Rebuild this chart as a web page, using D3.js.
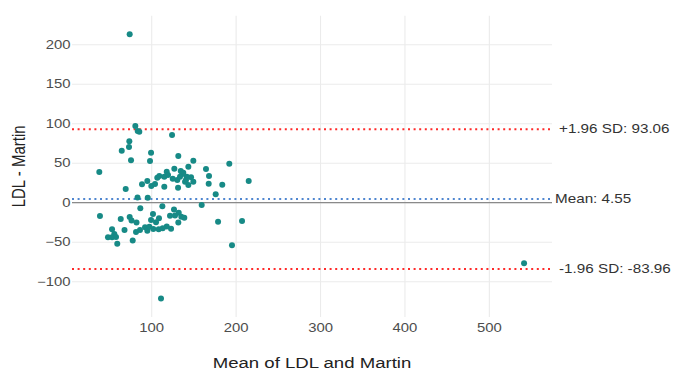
<!DOCTYPE html>
<html>
<head>
<meta charset="utf-8">
<script src="https://cdn.jsdelivr.net/npm/d3@7/dist/d3.min.js"></script>
<style>
  html, body { margin: 0; padding: 0; background: #fff; }
  svg { display: block; }
  text { font-family: "Liberation Sans", Arial, Helvetica, sans-serif; }
</style>
</head>
<body>
<svg id="chart" width="673" height="371"></svg>
<script>
// ---- data ----
const meanVals = [73.9,80.6,83.4,85.3,124.1,73.5,73.1,64.5,75.5,99.2,98.0,131.5,149.3,191.9,37.9,
  126.8,134.4,137.4,117.8,109.0,106.6,143.4,164.3,167.9,146.6,141.5,140.6,130.3,124.9,214.9,
  94.8,99.5,88.5,69.2,114.9,131.2,143.4,139.5,149.3,167.5,183.6,175.8,83.2,95.3,136.3,114.9,
  103.9,119.3,159.2,112.6,86.5,38.7,63.3,73.9,76.1,82.0,86.1,81.4,77.5,67.8,53.0,55.7,48.2,
  53.0,57.7,59.2,101.5,108.6,99.2,92.1,94.8,101.9,108.3,117.8,122.9,121.7,126.4,132.0,135.1,
  131.5,127.6,178.6,207.0,195.1,111.0,138.6,105.1,97.2,113.0,541.1,133.5];
const diffVals = [213.2,97.1,90.8,89.9,85.7,77.7,70.5,65.8,53.7,63.3,52.8,59.1,53.2,49.4,38.9,
  43.0,40.1,38.0,39.2,33.8,31.6,45.6,42.7,33.8,32.2,32.9,28.7,28.7,30.4,27.5,
  27.5,21.1,23.3,17.3,20.3,19.0,22.4,26.6,26.6,24.1,22.8,10.6,6.6,6.3,36.3,32.9,
  23.7,35.1,-2.9,-4.6,-7.1,-16.8,-20.6,-18.1,-22.5,-25.1,-34.6,-37.1,-47.8,-34.6,-33.7,-39.6,-43.8,
  -43.8,-43.4,-51.9,-14.3,-19.7,-21.9,-31.1,-35.4,-33.3,-33.7,-30.1,-32.9,-16.5,-8.6,-12.7,-17.7,
  -25.1,-16.2,-24.1,-23.2,-53.9,-121.3,-19.0,-24.8,-30.4,-32.4,-76.7,32.9];
const xTicks = [100, 200, 300, 400, 500];
const yTicks = [-100, -50, 0, 50, 100, 150, 200];
const meanDiff = 4.55;
const upperLoA = 93.06;
const lowerLoA = -83.96;
const refLines = [
  { value: upperLoA, label: "+1.96 SD: 93.06", kind: "loa" },
  { value: meanDiff, label: "Mean: 4.55", kind: "mean" },
  { value: lowerLoA, label: "-1.96 SD: -83.96", kind: "loa" }
];
const xTitle = "Mean of LDL and Martin";
const yTitle = "LDL - Martin";

// ---- layout ----
const panel = { left: 72, right: 552, top: 15.7, bottom: 317 };
const SX = 1.24; // horizontal stretch of the reference image text

const svg = d3.select("#chart");
const x = d3.scaleLinear().domain([5.57, 574.2]).range([panel.left, panel.right]);
const y = d3.scaleLinear().domain([-144.7, 236.7]).range([panel.bottom, panel.top]);

// gridlines
const grid = svg.append("g");
grid.selectAll("line.gx").data(xTicks).enter().append("line")
  .attr("x1", d => x(d)).attr("x2", d => x(d))
  .attr("y1", panel.top).attr("y2", panel.bottom)
  .attr("stroke", "#ebebeb").attr("stroke-width", 1.1);
grid.selectAll("line.gy").data(yTicks).enter().append("line")
  .attr("y1", d => y(d)).attr("y2", d => y(d))
  .attr("x1", panel.left).attr("x2", panel.right)
  .attr("stroke", "#ebebeb").attr("stroke-width", 1.1);

// zero line
svg.append("line")
  .attr("x1", panel.left).attr("x2", panel.right)
  .attr("y1", y(0)).attr("y2", y(0))
  .attr("stroke", "#8a8a8a").attr("stroke-width", 1.2);

// reference lines
svg.selectAll("line.ref").data(refLines).enter().append("line")
  .attr("x1", panel.left).attr("x2", panel.right)
  .attr("y1", d => y(d.value)).attr("y2", d => y(d.value))
  .attr("stroke", d => d.kind === "mean" ? "#4f86d0" : "#ff2a2a")
  .attr("stroke-width", 2)
  .attr("stroke-dasharray", "2,3.6");

// points
const pts = meanVals.map((m, i) => ({ m, d: diffVals[i] }));
svg.selectAll("circle").data(pts).enter().append("circle")
  .attr("cx", d => x(d.m)).attr("cy", d => y(d.d))
  .attr("r", 3).attr("fill", "#178a86");

// helper for stretched text
function stext(g, px, py, str, opts) {
  const t = g.append("text")
    .attr("transform", `translate(${px},${py}) scale(${SX},1)` + (opts.rotate ? ` rotate(${opts.rotate})` : ""))
    .attr("text-anchor", opts.anchor || "start")
    .attr("font-size", opts.size)
    .attr("fill", opts.fill)
    .text(str);
  return t;
}

// y tick labels
const gl = svg.append("g");
yTicks.forEach(v => {
  stext(gl, 70.5, y(v) + 4.2, String(v).replace("-", "\u2212"), { anchor: "end", size: 12, fill: "#4d4d4d" });
});
// x tick labels
xTicks.forEach(v => {
  stext(gl, x(v), 331.5, String(v), { anchor: "middle", size: 12, fill: "#4d4d4d" });
});

// ref labels
refLines.forEach(r => {
  stext(gl, r.kind === "mean" ? 555 : 559, y(r.value) + 4.3, r.label, { anchor: "start", size: 12.3, fill: "#333" });
});

// axis titles
stext(gl, (panel.left + panel.right) / 2, 367.5, xTitle, { anchor: "middle", size: 15, fill: "#222" });
stext(gl, 24.5, (panel.top + panel.bottom) / 2, yTitle, { anchor: "middle", size: 15, fill: "#222", rotate: -90 });
</script>
</body>
</html>
